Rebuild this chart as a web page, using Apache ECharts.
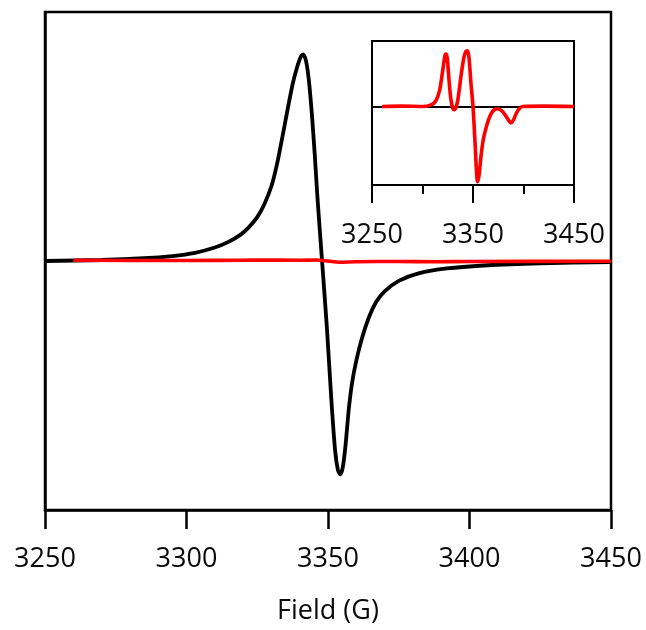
<!DOCTYPE html>
<html>
<head>
<meta charset="utf-8">
<script src="https://cdn.jsdelivr.net/npm/echarts@6/dist/echarts.min.js"></script>
<style>
  html, body { margin: 0; padding: 0; background: #fff; }
  #chart { width: 646px; height: 630px; }
</style>
</head>
<body>
<div id="chart"></div>
<script>
// Field axis (G)
const fieldMin = 3250;
const fieldMax = 3450;

// Broad derivative signal (black)
const broadField = [3250, 3270, 3285, 3295, 3303, 3310, 3315, 3319, 3322, 3325,
  3327.5, 3330, 3332, 3334, 3336, 3337.5, 3339, 3340.3, 3341.2, 3342.2,
  3343.2, 3344.3, 3345.3, 3346.3, 3347.9, 3349.6, 3351.2, 3352.5, 3353.5, 3354.3,
  3355.2, 3356.2, 3357.3, 3358.5, 3360, 3362, 3364.5, 3367, 3370, 3375,
  3382, 3392, 3405, 3425, 3450];
const broadSignal = [0, 0.004, 0.011, 0.020, 0.033, 0.054, 0.078, 0.105, 0.135, 0.176,
  0.228, 0.300, 0.390, 0.505, 0.625, 0.710, 0.775, 0.818, 0.830, 0.805,
  0.730, 0.590, 0.430, 0.250, 0, -0.267, -0.560, -0.760, -0.840, -0.857,
  -0.830, -0.740, -0.600, -0.490, -0.400, -0.310, -0.225, -0.165, -0.122, -0.080,
  -0.050, -0.030, -0.018, -0.009, -0.004];

// Weak multi-line signal (red) on the common intensity scale
const weakField = [3260, 3300, 3320, 3326, 3340, 3346, 3350, 3354, 3360, 3375, 3388, 3400, 3450];
const weakSignal = [0.003, 0.002, 0.003, 0.004, 0.003, 0.004, 0, -0.005, -0.003, -0.002, -0.003, -0.002, -0.001];

// Weak signal, expanded (inset)
const zoomField = [3260, 3280, 3300, 3308, 3313, 3317, 3320, 3322, 3323, 3324.5,
  3326, 3328, 3330, 3331.6, 3333, 3335, 3338, 3341, 3343, 3344.5,
  3346, 3348, 3350, 3352, 3353.5, 3354.5, 3356, 3358, 3360, 3362,
  3365, 3368, 3371, 3374, 3377, 3380, 3384, 3387.7, 3390, 3393,
  3396, 3399, 3420, 3450];
const zoomSignal = [0, 0.005, 0, 0.02, 0.08, 0.25, 0.55, 0.76, 0.80, 0.74,
  0.45, 0.12, -0.03, -0.05, -0.02, 0.1, 0.45, 0.75, 0.84, 0.85,
  0.75, 0.35, 0, -0.55, -1.0, -1.15, -1.05, -0.75, -0.52, -0.38,
  -0.22, -0.11, -0.05, -0.035, -0.05, -0.09, -0.18, -0.25, -0.21, -0.1,
  -0.03, 0, 0.005, 0];

const mainTicks = 50;
const insetTicks = 100;

const pairs = (xs, ys) => xs.map((x, i) => [x, ys[i]]);
const plain = v => String(v);

const font = '"Open Sans", "Noto Sans", sans-serif';
const ink = '#0a0a0a';

const chart = echarts.init(document.getElementById('chart'), null, { renderer: 'canvas' });

chart.setOption({
  animation: false,
  backgroundColor: '#fff',
  grid: [
    { left: 45, right: 35, top: 12, bottom: 116, show: true, borderColor: '#000', borderWidth: 2.5, backgroundColor: 'transparent' },
    { left: 372, right: 72, top: 41, bottom: 445, show: true, borderColor: '#000', borderWidth: 2, backgroundColor: '#fff', z: 5 }
  ],
  xAxis: [
    {
      gridIndex: 0, type: 'value', min: fieldMin, max: fieldMax, interval: mainTicks,
      name: 'Field (G)', nameLocation: 'middle', nameGap: 88,
      nameTextStyle: { fontFamily: font, fontSize: 27, color: ink },
      axisLine: { onZero: false, lineStyle: { color: '#000', width: 2.5 } },
      axisTick: { show: true, inside: false, length: 19, lineStyle: { color: '#000', width: 2.5 } },
      axisLabel: { margin: 36, fontFamily: font, fontSize: 27, color: ink, formatter: plain },
      splitLine: { show: false }
    },
    {
      gridIndex: 1, type: 'value', min: fieldMin, max: fieldMax, interval: insetTicks,
      axisLine: { onZero: false, lineStyle: { color: '#000', width: 2 } },
      axisTick: { show: true, inside: false, length: 18, lineStyle: { color: '#000', width: 2 } },
      minorTick: { show: true, splitNumber: 2, length: 9, lineStyle: { color: '#000', width: 2 } },
      axisLabel: { margin: 37, fontFamily: font, fontSize: 27, color: ink, formatter: plain },
      splitLine: { show: false }
    }
  ],
  yAxis: [
    {
      gridIndex: 0, type: 'value', min: -1, max: 1,
      axisLine: { show: true, onZero: false, lineStyle: { color: '#000', width: 2.5 } },
      axisTick: { show: false }, axisLabel: { show: false }, splitLine: { show: false }
    },
    {
      gridIndex: 1, type: 'value', min: -1.2, max: 1,
      axisLine: { show: true, onZero: false, lineStyle: { color: '#000', width: 2 } },
      axisTick: { show: false }, axisLabel: { show: false }, splitLine: { show: false }
    }
  ],
  series: [
    {
      name: 'broad', type: 'line', xAxisIndex: 0, yAxisIndex: 0,
      data: pairs(broadField, broadSignal), showSymbol: false, smooth: 0.25,
      lineStyle: { color: '#000', width: 3.8 }, z: 2
    },
    {
      name: 'weak', type: 'line', xAxisIndex: 0, yAxisIndex: 0,
      data: pairs(weakField, weakSignal), showSymbol: false, smooth: 0.3,
      lineStyle: { color: '#f00', width: 3.6 }, z: 3
    },
    {
      name: 'weak (expanded)', type: 'line', xAxisIndex: 1, yAxisIndex: 1,
      data: pairs(zoomField, zoomSignal), showSymbol: false, smooth: 0.3,
      lineStyle: { color: '#f00', width: 3.6 }, z: 7,
      markLine: {
        silent: true, symbol: 'none', label: { show: false },
        lineStyle: { color: '#000', width: 2, type: 'solid' },
        data: [{ yAxis: 0 }], z: 6
      }
    }
  ]
});
</script>
</body>
</html>
